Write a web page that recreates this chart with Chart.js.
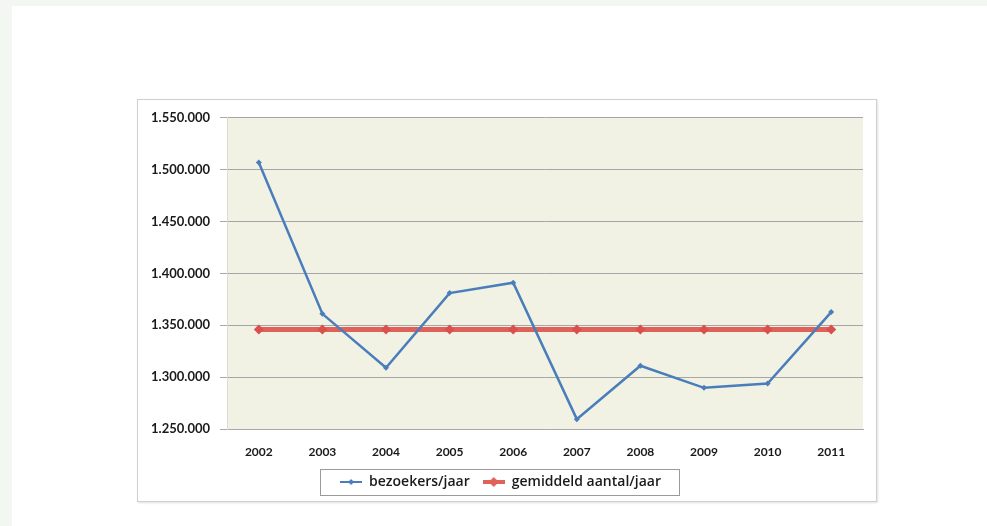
<!DOCTYPE html>
<html>
<head>
<meta charset="utf-8">
<script src="https://cdn.jsdelivr.net/npm/chart.js@4.4.1/dist/chart.umd.min.js"></script>
<style>
  html, body { margin: 0; padding: 0; }
  body { width: 987px; height: 526px; background: #f3f7f2; position: relative; overflow: hidden; }
  #page { position: absolute; left: 12px; top: 6px; right: 0; bottom: 0; background: #fff; }
  #box {
    position: absolute; left: 137px; top: 99px; width: 738px; height: 401px;
    border: 1px solid #cfcfcf; background: #fff;
    box-shadow: 1px 1px 2px rgba(0,0,0,0.12);
  }
</style>
</head>
<body>
<div id="page"></div>
<div id="box"><canvas id="chart"></canvas></div>
<script>
const years = ["2002", "2003", "2004", "2005", "2006", "2007", "2008", "2009", "2010", "2011"];
const visitors = [1507000, 1361000, 1309000, 1381000, 1391000, 1259500, 1311000, 1289700, 1293800, 1362700];
const average = [1346000, 1346000, 1346000, 1346000, 1346000, 1346000, 1346000, 1346000, 1346000, 1346000];
const yMin = 1250000;
const yMax = 1550000;
const yStep = 50000;

const blue = "#4a7ebb";
const red = "#e0605a";
const textCol = "#1a1a1a";

// dutch style thousands: 1.550.000
function fmt(v) {
  return String(v).replace(/\B(?=(\d{3})+(?!\d))/g, ".");
}

// small legend icon: line with a diamond in the middle
function icon(color, lw, size) {
  const c = document.createElement("canvas");
  c.width = 22; c.height = 12;
  const ctx = c.getContext("2d");
  ctx.strokeStyle = color;
  ctx.lineWidth = lw;
  ctx.beginPath(); ctx.moveTo(0, 6); ctx.lineTo(22, 6); ctx.stroke();
  ctx.fillStyle = color;
  ctx.beginPath();
  ctx.moveTo(11, 6 - size); ctx.lineTo(11 + size, 6); ctx.lineTo(11, 6 + size); ctx.lineTo(11 - size, 6);
  ctx.closePath(); ctx.fill();
  return c;
}

const plotBg = {
  id: "plotBg",
  beforeDraw(chart) {
    const a = chart.chartArea, ctx = chart.ctx;
    ctx.save();
    ctx.fillStyle = "#f1f1e4";
    ctx.fillRect(a.left, a.top, a.right - a.left, a.bottom - a.top);
    ctx.restore();
  },
  afterDraw(chart) {
    const items = chart.legend.legendHitBoxes;
    if (!items || !items.length) return;
    const first = items[0], last = items[items.length - 1];
    const ctx = chart.ctx;
    ctx.save();
    ctx.strokeStyle = "#9a9a9a";
    ctx.lineWidth = 1;
    const x0 = first.left - 20, x1 = last.left + last.width + 18;
    const y0 = first.top - 6, y1 = first.top + first.height + 6;
    ctx.strokeRect(Math.round(x0) + 0.5, Math.round(y0) + 0.5, Math.round(x1 - x0), Math.round(y1 - y0));
    ctx.restore();
  }
};

new Chart(document.getElementById("chart"), {
  type: "line",
  data: {
    labels: years,
    datasets: [{
      label: "bezoekers/jaar",
      data: visitors,
      borderColor: blue,
      backgroundColor: blue,
      borderWidth: 2.5,
      pointStyle: "rectRot",
      pointRadius: 3,
      pointBorderWidth: 0,
      tension: 0
    }, {
      label: "gemiddeld aantal/jaar",
      data: average,
      borderColor: red,
      backgroundColor: "#d9504c",
      borderWidth: 5,
      pointStyle: "rectRot",
      pointRadius: 5,
      pointBorderWidth: 0,
      tension: 0
    }]
  },
  options: {
    responsive: true,
    maintainAspectRatio: false,
    animation: false,
    layout: { padding: { top: 15, right: 13, left: 0, bottom: 2 } },
    plugins: {
      tooltip: { enabled: false },
      legend: {
        position: "bottom",
        labels: {
          usePointStyle: true,
          pointStyleWidth: 22,
          color: textCol,
          font: { family: "Open Sans", size: 14, weight: "600" },
          padding: 13,
          generateLabels(chart) {
            return [
              { text: "bezoekers/jaar", pointStyle: icon(blue, 2, 3), datasetIndex: 0, fontColor: textCol },
              { text: "gemiddeld aantal/jaar", pointStyle: icon(red, 4, 5), datasetIndex: 1, fontColor: textCol }
            ];
          }
        }
      }
    },
    scales: {
      x: {
        offset: true,
        grid: { display: false, drawTicks: false },
        border: { display: true, color: "#a8a8a8" },
        ticks: { color: textCol, font: { family: "Lato", size: 12, weight: "bold" }, padding: 16 },
        afterFit(scale) { scale.height = 33; }
      },
      y: {
        min: yMin,
        max: yMax,
        grid: { color: "#a6a6a6", lineWidth: 1, tickLength: 7 },
        border: { display: true, color: "#dcdcd0" },
        ticks: {
          stepSize: yStep,
          color: textCol,
          padding: 10,
          font: { family: "Lato", size: 13, weight: "bold" },
          callback: v => fmt(v)
        },
        afterFit(scale) { scale.width = 89; }
      }
    }
  },
  plugins: [plotBg]
});
</script>
</body>
</html>
